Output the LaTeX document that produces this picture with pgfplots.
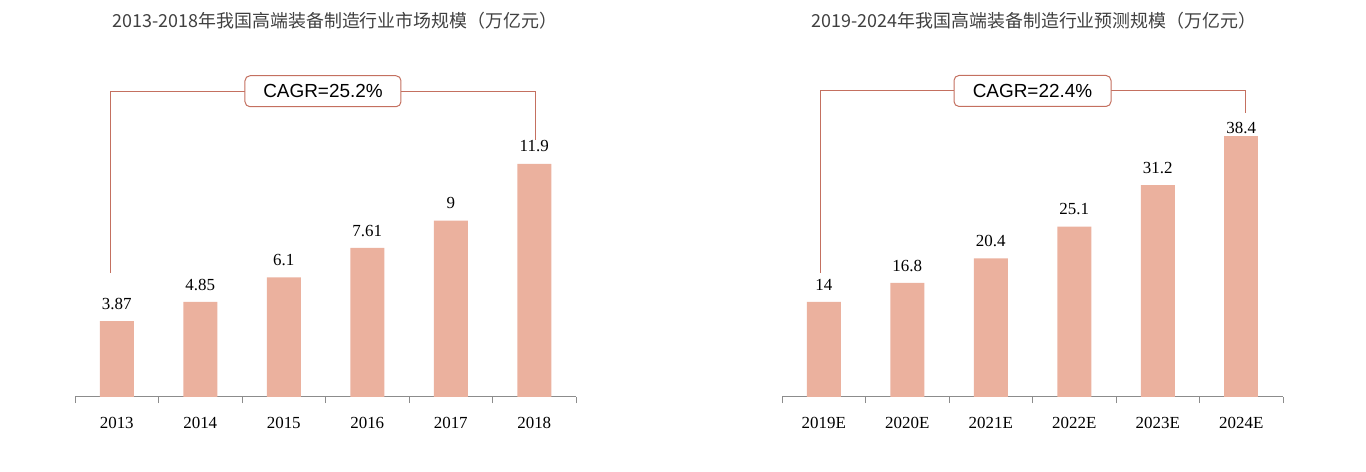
\documentclass[border=0pt]{standalone}
\usepackage{pgfplots}
\pgfplotsset{compat=1.18}
\usepackage{fontspec}
\setmainfont{Liberation Serif}
\newfontfamily\cjk{Noto Sans CJK SC}
\newfontfamily\sans{Liberation Sans}
\definecolor{barc}{RGB}{235,177,158}
\definecolor{brk}{RGB}{196,112,96}
\definecolor{axg}{RGB}{140,140,140}
\definecolor{ttl}{RGB}{64,64,64}
\pgfplotsset{mystyle/.style={
  scale only axis, width=501bp, height=294bp, xmin=-0.5, xmax=5.5, ymin=0,
  axis y line=none, axis x line*=bottom, x axis line style={axg, line width=1bp, -},
  xtick={0,...,5}, major tick length=0pt,
  minor xtick={-0.5,0.5,...,5.5}, minor tick length=6bp, tick align=outside,
  minor tick style={axg,line width=1bp},
  xticklabel style={font=\fontsize{17}{17}\selectfont, text=black, yshift=-17bp},
  ybar, bar width=34bp, bar shift=0pt, clip=false,
  nodes near coords, nodes near coords style={font=\fontsize{17}{17}\selectfont, text=black, yshift=8bp},
  point meta=explicit symbolic,
}}
\begin{document}
\begin{tikzpicture}
\path[use as bounding box] (0,0) rectangle (1366bp,472bp);
\node[font=\cjk\fontsize{18}{18}\selectfont, text=ttl] at (335bp,451bp) {2013-2018年我国高端装备制造行业市场规模（万亿元）};
\node[font=\cjk\fontsize{18}{18}\selectfont, text=ttl] at (1034bp,451bp) {2019-2024年我国高端装备制造行业预测规模（万亿元）};
\begin{axis}[mystyle, at={(75bp,75bp)}, anchor=south west, ymax=15,
  xticklabels={2013,2014,2015,2016,2017,2018}]
\addplot[fill=barc, draw=none] coordinates {(0,3.87)[3.87] (1,4.85)[4.85] (2,6.1)[6.1] (3,7.61)[7.61] (4,9)[9] (5,11.9)[11.9]};
\draw[brk, line width=1bp] (axis cs:-0.07,6.33) |- (axis cs:5.01,15.6) -- (axis cs:5.01,13.1);
\node[draw=brk, fill=white, rounded corners=5bp, line width=1bp, minimum width=156bp, minimum height=31bp, font=\sans\fontsize{19}{19}\selectfont] at (axis cs:2.47,15.6) {CAGR=25.2\%};
\end{axis}
\begin{axis}[mystyle, at={(782bp,75bp)}, anchor=south west, ymax=43.3,
  xticklabels={2019E,2020E,2021E,2022E,2023E,2024E}]
\addplot[fill=barc, draw=none] coordinates {(0,14)[14] (1,16.8)[16.8] (2,20.4)[20.4] (3,25.1)[25.1] (4,31.2)[31.2]};
\addplot[fill=barc, draw=none, nodes near coords style={yshift=-9bp}] coordinates {(5,38.4)[38.4]};
\draw[brk, line width=1bp] (axis cs:-0.035,18.3) |- (axis cs:5.05,45.07) -- (axis cs:5.05,41.8);
\node[draw=brk, fill=white, rounded corners=5bp, line width=1bp, minimum width=157bp, minimum height=31bp, font=\sans\fontsize{19}{19}\selectfont] at (axis cs:2.5,45.07) {CAGR=22.4\%};
\end{axis}
\end{tikzpicture}
\end{document}
